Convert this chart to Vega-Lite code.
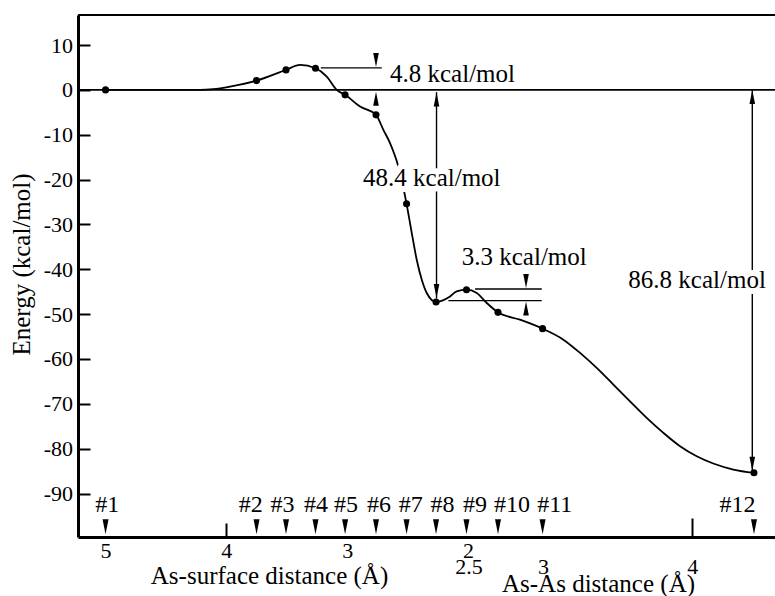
{
  "$schema": "https://vega.github.io/schema/vega-lite/v6.json",
  "width": 697,
  "height": 522,
  "autosize": {"type": "none"},
  "padding": {"left": 78, "top": 15, "right": 0, "bottom": 59},
  "background": "white",
  "config": {
    "view": {"stroke": null},
    "font": "Liberation Serif",
    "axis": {"grid": false, "labelFont": "Liberation Serif", "titleFont": "Liberation Serif", "labelColor": "black", "titleColor": "black", "domainColor": "black", "tickColor": "black", "titleFontWeight": "normal", "labelFlush": false, "labelOverlap": false, "labelBound": false},
    "text": {"font": "Liberation Serif"}
  },
  "datasets": {
    "one": [{"k": 1}],
    "curve": [
      {"i": 1, "s": 5.0, "E": 0}, {"i": 2, "s": 4.218, "E": 0}, {"i": 3, "s": 4.11, "E": 0.16}, {"i": 4, "s": 3.969, "E": 0.74},
      {"i": 5, "s": 3.75, "E": 2.07}, {"i": 6, "s": 3.506, "E": 4.46}, {"i": 7, "s": 3.39, "E": 5.57}, {"i": 8, "s": 3.262, "E": 4.83},
      {"i": 9, "s": 3.169, "E": 2.96}, {"i": 10, "s": 3.086, "E": 0}, {"i": 11, "s": 3.017, "E": -1.11}, {"i": 12, "s": 2.893, "E": -3.72},
      {"i": 13, "s": 2.761, "E": -5.57}, {"i": 14, "s": 2.7, "E": -8.91}, {"i": 15, "s": 2.645, "E": -11.87}, {"i": 16, "s": 2.576, "E": -17.09},
      {"i": 17, "s": 2.508, "E": -25.4}, {"i": 18, "s": 2.465, "E": -31.92}, {"i": 19, "s": 2.424, "E": -37.87}, {"i": 20, "s": 2.382, "E": -42.33},
      {"i": 21, "s": 2.341, "E": -45.29}, {"i": 22, "s": 2.264, "E": -47.29}, {"i": 23, "s": 2.148, "E": -46.05}, {"i": 24, "s": 2.093, "E": -44.93},
      {"i": 25, "s": 2.012, "E": -44.55}, {"i": 26, "s": 1.927, "E": -45.29}, {"i": 27, "s": 1.844, "E": -47.52}, {"i": 28, "s": 1.751, "E": -49.61},
      {"i": 29, "s": 1.569, "E": -51.24}, {"i": 30, "s": 1.382, "E": -53.24}, {"i": 31, "s": 1.21, "E": -55.69}, {"i": 32, "s": 1.072, "E": -58.65},
      {"i": 33, "s": 0.934, "E": -62.0}, {"i": 34, "s": 0.796, "E": -65.72}, {"i": 35, "s": 0.658, "E": -69.44}, {"i": 36, "s": 0.52, "E": -73.13},
      {"i": 37, "s": 0.382, "E": -76.48}, {"i": 38, "s": 0.244, "E": -79.46}, {"i": 39, "s": 0.106, "E": -81.69}, {"i": 40, "s": -0.031, "E": -83.31},
      {"i": 41, "s": -0.197, "E": -84.65}, {"i": 42, "s": -0.368, "E": -85.39}
    ],
    "structures": [
      {"n": "#1", "s": 5.0, "E": 0, "ls": 4.986},
      {"n": "#2", "s": 3.75, "E": 2.07, "ls": 3.797},
      {"n": "#3", "s": 3.506, "E": 4.46, "ls": 3.535},
      {"n": "#4", "s": 3.262, "E": 4.83, "ls": 3.257},
      {"n": "#5", "s": 3.017, "E": -1.11, "ls": 3.009},
      {"n": "#6", "s": 2.761, "E": -5.57, "ls": 2.736},
      {"n": "#7", "s": 2.508, "E": -25.4, "ls": 2.473},
      {"n": "#8", "s": 2.264, "E": -47.29, "ls": 2.21},
      {"n": "#9", "s": 2.012, "E": -44.55, "ls": 1.941},
      {"n": "#10", "s": 1.751, "E": -49.61, "ls": 1.635},
      {"n": "#11", "s": 1.382, "E": -53.24, "ls": 1.281},
      {"n": "#12", "s": -0.368, "E": -85.39, "ls": -0.232}
    ],
    "hsegs": [
      {"s": 3.218, "s2": 2.713, "E": 4.9},
      {"s": 1.941, "s2": 1.389, "E": -44.4},
      {"s": 2.162, "s2": 1.389, "E": -47.0}
    ],
    "vsegs": [
      {"s": 2.26, "E": -0.5, "E2": -46.5},
      {"s": -0.354, "E": 0, "E2": -85.0}
    ],
    "heads": [
      {"s": 2.761, "E": 5.1, "dir": "down"},
      {"s": 2.761, "E": -0.4, "dir": "up"},
      {"s": 2.26, "E": -0.6, "dir": "up"},
      {"s": 2.26, "E": -46.4, "dir": "down"},
      {"s": 1.519, "E": -44.2, "dir": "down"},
      {"s": 1.519, "E": -47.2, "dir": "up"},
      {"s": -0.354, "E": 0, "dir": "up"},
      {"s": -0.354, "E": -84.9, "dir": "down"}
    ],
    "notes": [
      {"s": 2.645, "E": 1.85, "t": "4.8 kcal/mol", "halo": false},
      {"s": 2.868, "E": -21.39, "t": "48.4 kcal/mol", "halo": true},
      {"s": 2.051, "E": -38.98, "t": "3.3 kcal/mol", "halo": false},
      {"s": 0.672, "E": -44.17, "t": "86.8 kcal/mol", "halo": true}
    ]
  },
  "layer": [
    {
      "data": {"name": "curve"},
      "mark": {"type": "line", "interpolate": "monotone", "color": "black", "strokeWidth": 1.8},
      "encoding": {
        "x": {"field": "s", "type": "quantitative", "scale": {"domain": [-0.542, 5.228], "reverse": true, "nice": false, "zero": false},
          "axis": {"orient": "bottom", "values": [5, 4, 3, 2], "title": "As-surface distance (Å)", "domainWidth": 3, "tickSize": -14, "tickWidth": 2,
            "tickOpacity": {"condition": {"test": "datum.value === 4", "value": 1}, "value": 0},
            "labelFont": "Liberation Serif", "labelFontSize": 22, "labelBaseline": "alphabetic", "labelPadding": 34,
            "titleFontSize": 25, "titleX": 191, "titleY": 46, "titleBaseline": "alphabetic", "titleAlign": "center"}},
        "y": {"field": "E", "type": "quantitative", "scale": {"domain": [-99.7, 16.7], "nice": false, "zero": false},
          "axis": {"orient": "left", "values": [10, 0, -10, -20, -30, -40, -50, -60, -70, -80, -90], "labelExpr": "'' + datum.value",
            "title": "Energy (kcal/mol)", "domainWidth": 3, "tickSize": -12, "tickWidth": 2,
            "labelFont": "Liberation Serif", "labelFontSize": 22, "labelPadding": 17.5,
            "titleFontSize": 25, "titleX": -49, "titleY": 249, "titleBaseline": "alphabetic", "titleAlign": "center"}},
        "order": {"field": "i", "type": "quantitative"}
      }
    },
    {
      "data": {"name": "one"},
      "mark": {"type": "rule", "color": "black", "strokeWidth": 1.7},
      "encoding": {"y": {"datum": 0, "type": "quantitative", "scale": {"domain": [-99.7, 16.7], "nice": false, "zero": false}, "axis": null}}
    },
    {
      "data": {"name": "one"},
      "mark": {"type": "rule", "color": "black", "strokeWidth": 2.2},
      "encoding": {"y": {"datum": 16.7, "type": "quantitative", "scale": {"domain": [-99.7, 16.7], "nice": false, "zero": false}, "axis": null}}
    },
    {
      "data": {"name": "structures"},
      "mark": {"type": "circle", "color": "black", "size": 50, "opacity": 1},
      "encoding": {
        "x": {"field": "s", "type": "quantitative", "scale": {"domain": [-0.542, 5.228], "reverse": true, "nice": false, "zero": false},
          "axis": {"orient": "bottom", "values": [1.996, 1.378, 0.142], "labelExpr": "datum.value > 1.9 ? '2.5' : datum.value > 1 ? '3' : '4'",
            "title": "As-As distance (Å)", "domain": false, "tickSize": -19, "tickWidth": 2,
            "tickOpacity": {"condition": {"test": "datum.value < 1", "value": 1}, "value": 0},
            "labelFont": "Liberation Serif", "labelFontSize": 22, "labelBaseline": "alphabetic", "labelPadding": 55,
            "titleFontSize": 25, "titleX": 520, "titleY": 54, "titleBaseline": "alphabetic", "titleAlign": "center"}},
        "y": {"field": "E", "type": "quantitative", "scale": {"domain": [-99.7, 16.7], "nice": false, "zero": false}, "axis": null}
      }
    },
    {
      "data": {"name": "hsegs"},
      "mark": {"type": "rule", "color": "black", "strokeWidth": 1.4},
      "encoding": {
        "x": {"field": "s", "type": "quantitative", "scale": {"domain": [-0.542, 5.228], "reverse": true, "nice": false, "zero": false}, "axis": null},
        "x2": {"field": "s2"},
        "y": {"field": "E", "type": "quantitative", "scale": {"domain": [-99.7, 16.7], "nice": false, "zero": false}, "axis": null}
      }
    },
    {
      "data": {"name": "vsegs"},
      "mark": {"type": "rule", "color": "black", "strokeWidth": 1.4},
      "encoding": {
        "x": {"field": "s", "type": "quantitative", "scale": {"domain": [-0.542, 5.228], "reverse": true, "nice": false, "zero": false}, "axis": null},
        "y": {"field": "E", "type": "quantitative", "scale": {"domain": [-99.7, 16.7], "nice": false, "zero": false}, "axis": null},
        "y2": {"field": "E2"}
      }
    },
    {
      "data": {"name": "heads"},
      "mark": {"type": "point", "filled": true, "color": "black", "size": 784, "opacity": 1},
      "encoding": {
        "x": {"field": "s", "type": "quantitative", "scale": {"domain": [-0.542, 5.228], "reverse": true, "nice": false, "zero": false}, "axis": null},
        "y": {"field": "E", "type": "quantitative", "scale": {"domain": [-99.7, 16.7], "nice": false, "zero": false}, "axis": null},
        "shape": {"field": "dir", "type": "nominal", "scale": {"domain": ["up", "down"], "range": ["M0,0L-0.2,1L0.2,1Z", "M0,0L-0.2,-1L0.2,-1Z"]}, "legend": null}
      }
    },
    {
      "data": {"name": "notes"},
      "transform": [{"filter": "datum.halo"}],
      "mark": {"type": "text", "font": "Liberation Serif", "align": "left", "baseline": "alphabetic", "fontSize": 25, "color": "white", "stroke": "white", "strokeWidth": 12},
      "encoding": {
        "x": {"field": "s", "type": "quantitative", "scale": {"domain": [-0.542, 5.228], "reverse": true, "nice": false, "zero": false}, "axis": null},
        "y": {"field": "E", "type": "quantitative", "scale": {"domain": [-99.7, 16.7], "nice": false, "zero": false}, "axis": null},
        "text": {"field": "t"}
      }
    },
    {
      "data": {"name": "notes"},
      "mark": {"type": "text", "font": "Liberation Serif", "align": "left", "baseline": "alphabetic", "fontSize": 25, "color": "black"},
      "encoding": {
        "x": {"field": "s", "type": "quantitative", "scale": {"domain": [-0.542, 5.228], "reverse": true, "nice": false, "zero": false}, "axis": null},
        "y": {"field": "E", "type": "quantitative", "scale": {"domain": [-99.7, 16.7], "nice": false, "zero": false}, "axis": null},
        "text": {"field": "t"}
      }
    },
    {
      "data": {"name": "structures"},
      "mark": {"type": "point", "filled": true, "color": "black", "size": 900, "opacity": 1, "shape": "M0,0L-0.2,-1L0.2,-1Z"},
      "encoding": {
        "x": {"field": "s", "type": "quantitative", "scale": {"domain": [-0.542, 5.228], "reverse": true, "nice": false, "zero": false}, "axis": null},
        "y": {"datum": -99.1, "type": "quantitative", "scale": {"domain": [-99.7, 16.7], "nice": false, "zero": false}, "axis": null}
      }
    },
    {
      "data": {"name": "structures"},
      "mark": {"type": "text", "font": "Liberation Serif", "align": "center", "baseline": "alphabetic", "fontSize": 24, "color": "black"},
      "encoding": {
        "x": {"field": "ls", "type": "quantitative", "scale": {"domain": [-0.542, 5.228], "reverse": true, "nice": false, "zero": false}, "axis": null},
        "y": {"datum": -94.2, "type": "quantitative", "scale": {"domain": [-99.7, 16.7], "nice": false, "zero": false}, "axis": null},
        "text": {"field": "n"}
      }
    }
  ],
  "resolve": {"axis": {"x": "independent", "y": "independent"}}
}
